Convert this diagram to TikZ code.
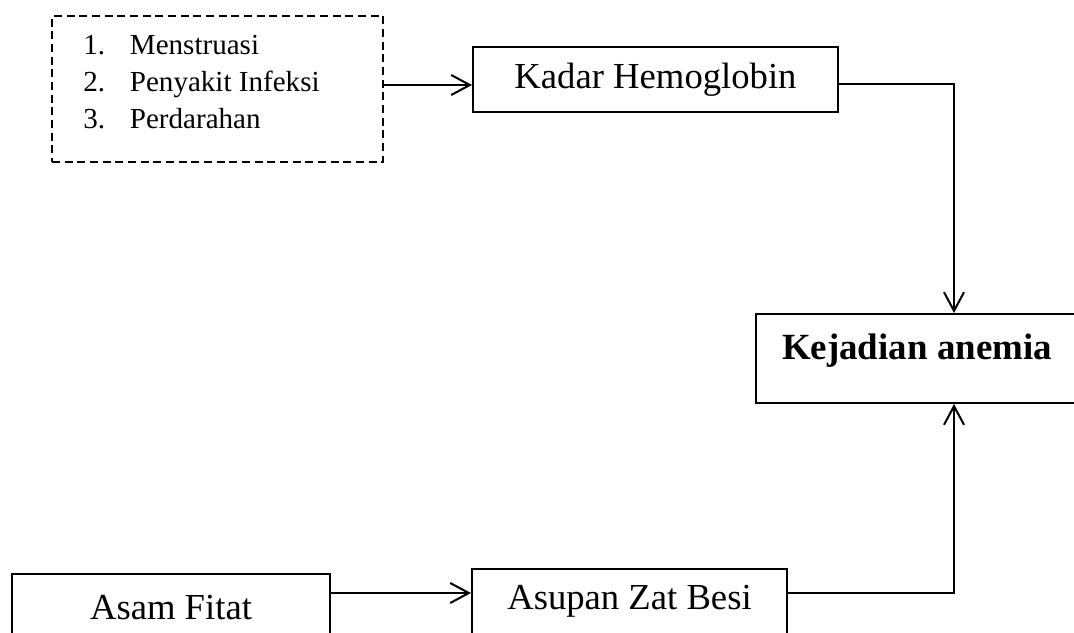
\documentclass[tikz,border=0pt]{standalone}
\usepackage{fontspec}
\setmainfont{Liberation Serif}
\usepackage{array}
\usetikzlibrary{arrows.meta,
	positioning
}
\tikzset{Kerangka/.style = {
		every node/.style = {inner sep=0pt, font=\fontsize{27.5}{33}\selectfont},
		kotak/.style = {rectangle, draw, line width=1.5pt},
		putus/.style = {kotak, dash pattern=on 6pt off 3.5pt},
		panah/.style = {line width=1.5pt,
			-{Straight Barb[length=14pt,width=15pt,line width=1.5pt]}
		},
		garis/.style = {line width=1.5pt}
	}% end of Kerangka style
}

\begin{document}
\begin{tikzpicture}[Kerangka,x=0.75pt,y=-0.75pt]
  \useasboundingbox (0,0) rectangle (1074,632);

  \node[putus, minimum width=248.25pt, minimum height=109.5pt] (faktor) at (217.5,89) {};
  \node[anchor=west, font=\fontsize{21.8}{28}\selectfont] (daftar) at (83,84)
    {\begin{tabular}{@{}p{35pt}@{}l@{}}
      1. & Menstruasi\\
      2. & Penyakit Infeksi\\
      3. & Perdarahan
    \end{tabular}};
  \node[kotak, minimum width=273.75pt, minimum height=48.75pt] (kadar) at (655.5,79.5) {Kadar Hemoglobin};
  \node[kotak, minimum width=241.5pt, minimum height=66.75pt, text height=19pt, text depth=17pt,
    font=\fontsize{27.7}{33}\selectfont\bfseries] (kejadian) at (917,358.5) {Kejadian anemia};
  \node[kotak, minimum width=238.5pt, minimum height=50pt] (asam) at (171,607.5) {Asam Fitat};
  \node[kotak, minimum width=236.25pt, minimum height=49.5pt] (asupan) at (629.5,601.5) {Asupan Zat Besi};

  \coordinate (belok1) at (954,84);
  \coordinate (belok2) at (954,593);

  \draw[panah] (faktor.east |- 0,85) -- (kadar.west |- 0,85);
  \draw[panah] (kadar.east |- belok1) -- (belok1) -- (kejadian.north -| belok1);
  \draw[panah] (asam.east |- 0,593) -- (asupan.west |- 0,593);
  \draw[panah] (asupan.east |- belok2) -- (belok2) -- (kejadian.south -| belok2);
\end{tikzpicture}
\end{document}
